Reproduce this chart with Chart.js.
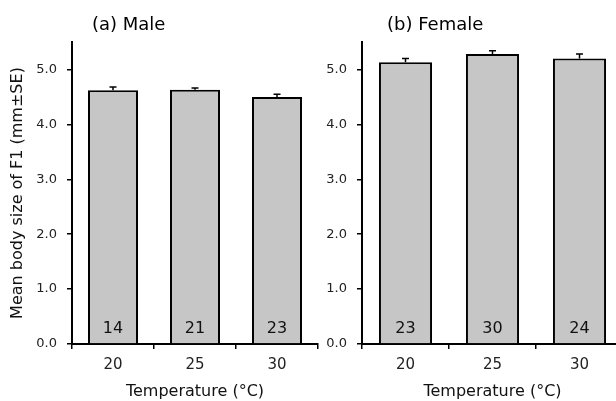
<!DOCTYPE html>
<html>
<head>
<meta charset="utf-8">
<script src="https://cdn.jsdelivr.net/npm/chart.js@4.4.1/dist/chart.umd.min.js"></script>
<style>
  html, body { margin: 0; padding: 0; background: #fff; width: 616px; height: 401px; overflow: hidden; }
  #wrap { position: relative; width: 616px; height: 401px; overflow: hidden; }
  .box { position: absolute; top: 0; height: 401px; }
  #boxA { left: 0; width: 330px; }
  #boxB { left: 290px; width: 350px; }
</style>
</head>
<body>
<div id="wrap">
  <div class="box" id="boxA"><canvas id="cA"></canvas></div>
  <div class="box" id="boxB"><canvas id="cB"></canvas></div>
</div>
<script>
const temperatures = ['20', '25', '30'];
const maleMeans = [4.62, 4.63, 4.50];
const maleSE = [0.06, 0.03, 0.05];
const maleN = [14, 21, 23];
const femaleMeans = [5.13, 5.28, 5.20];
const femaleSE = [0.07, 0.06, 0.08];
const femaleN = [23, 30, 24];
const yTickValues = [0, 1, 2, 3, 4, 5];
const panelTitles = ['(a) Male', '(b) Female'];
const xAxisTitle = 'Temperature (°C)';
const yAxisTitle = 'Mean body size of F1 (mm±SE)';

const FONT = "'DejaVu Sans', sans-serif";

const extrasPlugin = {
  id: 'extras',
  afterDatasetsDraw(chart, args, opts) {
    const ctx = chart.ctx;
    const meta = chart.getDatasetMeta(0);
    const ys = chart.scales.y;
    ctx.save();
    // error bars
    ctx.strokeStyle = '#000';
    ctx.lineWidth = 1.5;
    meta.data.forEach((bar, i) => {
      const topV = opts.means[i] + opts.se[i];
      const yTop = ys.getPixelForValue(topV);
      const yBar = ys.getPixelForValue(opts.means[i]);
      ctx.beginPath();
      ctx.moveTo(bar.x, yBar);
      ctx.lineTo(bar.x, yTop);
      ctx.moveTo(bar.x - 3.5, yTop);
      ctx.lineTo(bar.x + 3.5, yTop);
      ctx.stroke();
    });
    // sample sizes
    ctx.fillStyle = '#111';
    ctx.font = '16px ' + FONT;
    ctx.textAlign = 'center';
    ctx.textBaseline = 'middle';
    const yN = ys.getPixelForValue(0) - 15;
    meta.data.forEach((bar, i) => {
      ctx.fillText(String(opts.n[i]), bar.x, yN);
    });
    // panel title
    ctx.font = '18px ' + FONT;
    ctx.textAlign = 'left';
    ctx.fillStyle = '#000';
    ctx.fillText(opts.title, chart.chartArea.left + opts.titleDx, 25);
    ctx.restore();
  }
};

function makeChart(id, means, se, n, title, titleDx, showYTitle, rightPad) {
  return new Chart(document.getElementById(id), {
    type: 'bar',
    data: {
      labels: temperatures,
      datasets: [{
        data: means,
        backgroundColor: '#c6c6c6',
        borderColor: '#000',
        borderWidth: 2,
        barPercentage: 0.61,
        categoryPercentage: 1.0
      }]
    },
    options: {
      responsive: true,
      maintainAspectRatio: false,
      animation: false,
      events: [],
      layout: { padding: { top: 42, right: rightPad, left: 0, bottom: 0 } },
      plugins: {
        legend: { display: false },
        tooltip: { enabled: false },
        extras: { means: means, se: se, n: n, title: title, titleDx: titleDx }
      },
      scales: {
        x: {
          grid: { display: true, drawOnChartArea: false, drawTicks: true, tickLength: 5, color: '#000', lineWidth: 1.5, offset: true },
          border: { display: true, color: '#000', width: 2 },
          ticks: { color: '#222', font: { family: FONT, size: 15 }, padding: 7 },
          title: { display: true, text: xAxisTitle, color: '#111', font: { family: FONT, size: 16 }, padding: { top: 0, bottom: 0 } },
          afterFit(scale) { scale.height = 57; }
        },
        y: {
          min: 0,
          max: 5.5,
          afterBuildTicks(scale) { scale.ticks = yTickValues.map(v => ({ value: v })); },
          grid: { display: true, drawOnChartArea: false, drawTicks: true, tickLength: 5, color: '#000', lineWidth: 1.5 },
          border: { display: true, color: '#000', width: 2 },
          ticks: { color: '#222', font: { family: FONT, size: 13 }, padding: 10, callback: v => Number(v).toFixed(1) },
          title: { display: showYTitle, text: yAxisTitle, color: '#111', font: { family: FONT, size: 16 }, padding: { top: 8, bottom: 0 } },
          afterFit(scale) { scale.width = 72; }
        }
      }
    },
    plugins: [extrasPlugin]
  });
}

makeChart('cA', maleMeans, maleSE, maleN, panelTitles[0], 20, true, 12);
makeChart('cB', femaleMeans, femaleSE, femaleN, panelTitles[1], 25, false, 17);
</script>
</body>
</html>
